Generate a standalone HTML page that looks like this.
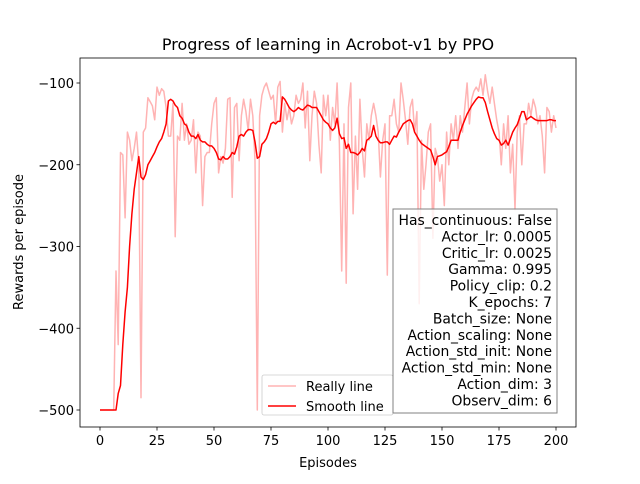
<!DOCTYPE html>
<html><head><meta charset="utf-8"><style>
body{margin:0;background:#fff;font-family:"DejaVu Sans","Liberation Sans",sans-serif;}
svg text{font-family:"DejaVu Sans","Liberation Sans",sans-serif;fill:#000;}
</style></head><body>
<svg id="chart" width="640" height="480" xmlns="http://www.w3.org/2000/svg">
<rect width="640" height="480" fill="#fff"/>
<g id="plot"></g>
</svg>
<script>
const episodes = Array.from({length:201},(_,i)=>i);
const rawRewards = [-500,-500,-500,-500,-500,-500,-500,-330,-420,-185,-188,-265,-160,-170,-195,-180,-160,-200,-485,-160,-155,-118,-123,-128,-145,-105,-115,-107,-110,-130,-165,-165,-125,-288,-165,-170,-125,-170,-150,-175,-170,-145,-210,-160,-165,-250,-190,-185,-185,-150,-125,-118,-210,-190,-198,-180,-120,-118,-240,-130,-125,-195,-140,-120,-135,-158,-120,-140,-195,-500,-140,-115,-105,-100,-110,-120,-115,-150,-105,-98,-160,-125,-145,-130,-150,-140,-115,-125,-120,-100,-155,-110,-195,-140,-110,-125,-175,-210,-115,-140,-115,-170,-130,-150,-100,-175,-330,-150,-345,-130,-100,-260,-165,-230,-120,-180,-215,-150,-170,-140,-125,-140,-160,-215,-170,-150,-335,-140,-140,-120,-150,-160,-100,-120,-145,-175,-130,-120,-160,-135,-370,-170,-230,-200,-160,-150,-290,-180,-190,-220,-200,-250,-160,-200,-150,-170,-140,-180,-140,-160,-130,-100,-150,-120,-110,-105,-110,-95,-115,-90,-110,-125,-105,-125,-145,-160,-200,-150,-180,-140,-210,-175,-255,-160,-140,-200,-150,-150,-125,-140,-120,-130,-150,-140,-165,-210,-130,-135,-160,-140,-155];
const smoothRewards = [-500,-500,-500,-500,-500,-500,-500,-500,-480,-470,-420,-380,-350,-300,-260,-230,-210,-190,-215,-218,-212,-200,-195,-190,-185,-178,-172,-168,-160,-150,-122,-120,-122,-127,-130,-140,-143,-150,-152,-160,-165,-165,-168,-163,-170,-172,-172,-175,-177,-177,-180,-185,-193,-194,-190,-193,-193,-190,-185,-187,-178,-165,-163,-165,-160,-157,-157,-158,-172,-192,-190,-175,-172,-168,-160,-150,-148,-150,-147,-147,-117,-120,-125,-130,-133,-135,-133,-130,-132,-133,-130,-127,-128,-130,-130,-130,-135,-140,-145,-148,-150,-155,-158,-155,-143,-162,-168,-167,-180,-175,-185,-185,-186,-188,-185,-180,-183,-170,-168,-165,-152,-165,-170,-173,-173,-172,-172,-175,-170,-165,-166,-160,-155,-150,-148,-146,-145,-150,-160,-165,-170,-174,-176,-178,-180,-182,-190,-200,-190,-189,-188,-186,-184,-178,-170,-170,-170,-170,-160,-152,-145,-138,-133,-128,-124,-120,-117,-118,-118,-124,-135,-145,-155,-162,-168,-170,-176,-174,-170,-176,-168,-160,-155,-151,-143,-135,-135,-145,-143,-141,-143,-145,-146,-146,-146,-146,-146,-145,-145,-146,-146,-146];
const xTicks = [0,25,50,75,100,125,150,175,200];
const yTicks = [-100,-200,-300,-400,-500];
const infoLines = ["Has_continuous: False","Actor_lr: 0.0005","Critic_lr: 0.0025","Gamma: 0.995","Policy_clip: 0.2","K_epochs: 7","Batch_size: None","Action_scaling: None","Action_std_init: None","Action_std_min: None","Action_dim: 3","Observ_dim: 6"];

const L=80,R=576,T=58,B=427;
const xs=v=>100+(v/200)*456;
const ys=v=>83+(-100-v)*(327/400);
const NS="http://www.w3.org/2000/svg";
const g=document.getElementById('plot');
function mk(tag,attrs,parent){const e=document.createElementNS(NS,tag);for(const k in attrs)e.setAttribute(k,attrs[k]);(parent||g).appendChild(e);return e;}
function pathFor(arr){let d='';episodes.forEach((e,i)=>{if(arr[i]===undefined)return;d+=(d?'L':'M')+xs(e).toFixed(1)+','+ys(arr[i]).toFixed(1);});return d;}

const rawPath=mk('path',{d:pathFor(rawRewards),fill:'none',stroke:'#ffb3b3','stroke-width':1.5,'stroke-linejoin':'round'});


const smPath=mk('path',{d:pathFor(smoothRewards),fill:'none',stroke:'#ff0000','stroke-width':1.5,'stroke-linejoin':'round'});



const frame=mk('rect',{x:L,y:T,width:R-L,height:B-T,fill:'none',stroke:'#000','stroke-width':0.8});



xTicks.forEach(t=>{
  mk('line',{x1:xs(t),x2:xs(t),y1:B,y2:B+3.5,stroke:'#000','stroke-width':0.8});
  const tx=mk('text',{x:xs(t),y:B+18,'text-anchor':'middle','font-size':'13px'});
  tx.textContent=t;
  
  
});
yTicks.forEach(t=>{
  mk('line',{x1:L-3.5,x2:L,y1:ys(t),y2:ys(t),stroke:'#000','stroke-width':0.8});
  const tx=mk('text',{x:L-6,y:ys(t)+5,'text-anchor':'end','font-size':'13px'});
  tx.textContent='\u2212'+Math.abs(t);
  
  
});

const title=mk('text',{x:328,y:50,'text-anchor':'middle','font-size':'16px'});
title.textContent='Progress of learning in Acrobot-v1 by PPO';


const xl=mk('text',{x:328,y:467,'text-anchor':'middle','font-size':'13px'});
xl.textContent='Episodes';


const yl=mk('text',{x:0,y:0,'text-anchor':'middle','font-size':'13px',transform:'translate(23,242) rotate(-90)'});
yl.textContent='Rewards per episode';



const lg=mk('g',{});


mk('rect',{x:262,y:375,width:131,height:40,rx:2,fill:'#fff','fill-opacity':0.8,stroke:'#ccc','stroke-width':0.8},lg);
mk('line',{x1:268,x2:296,y1:386,y2:386,stroke:'#ffb3b3','stroke-width':1.5},lg);
mk('line',{x1:268,x2:296,y1:406,y2:406,stroke:'#ff0000','stroke-width':1.5},lg);
const l1=mk('text',{x:306,y:391,'font-size':'13px'},lg);l1.textContent='Really line';


const l2=mk('text',{x:306,y:411,'font-size':'13px'},lg);l2.textContent='Smooth line';



const ib=mk('g',{});


mk('rect',{x:393,y:209,width:164,height:204,fill:'#fff','fill-opacity':0.8,stroke:'#808080','stroke-width':1},ib);
infoLines.forEach((s,i)=>{
  const t=mk('text',{x:552,y:225+i*16.4,'text-anchor':'end','font-size':'13.9px'},ib);
  t.textContent=s;
  
  
});
</script>
</body></html>
